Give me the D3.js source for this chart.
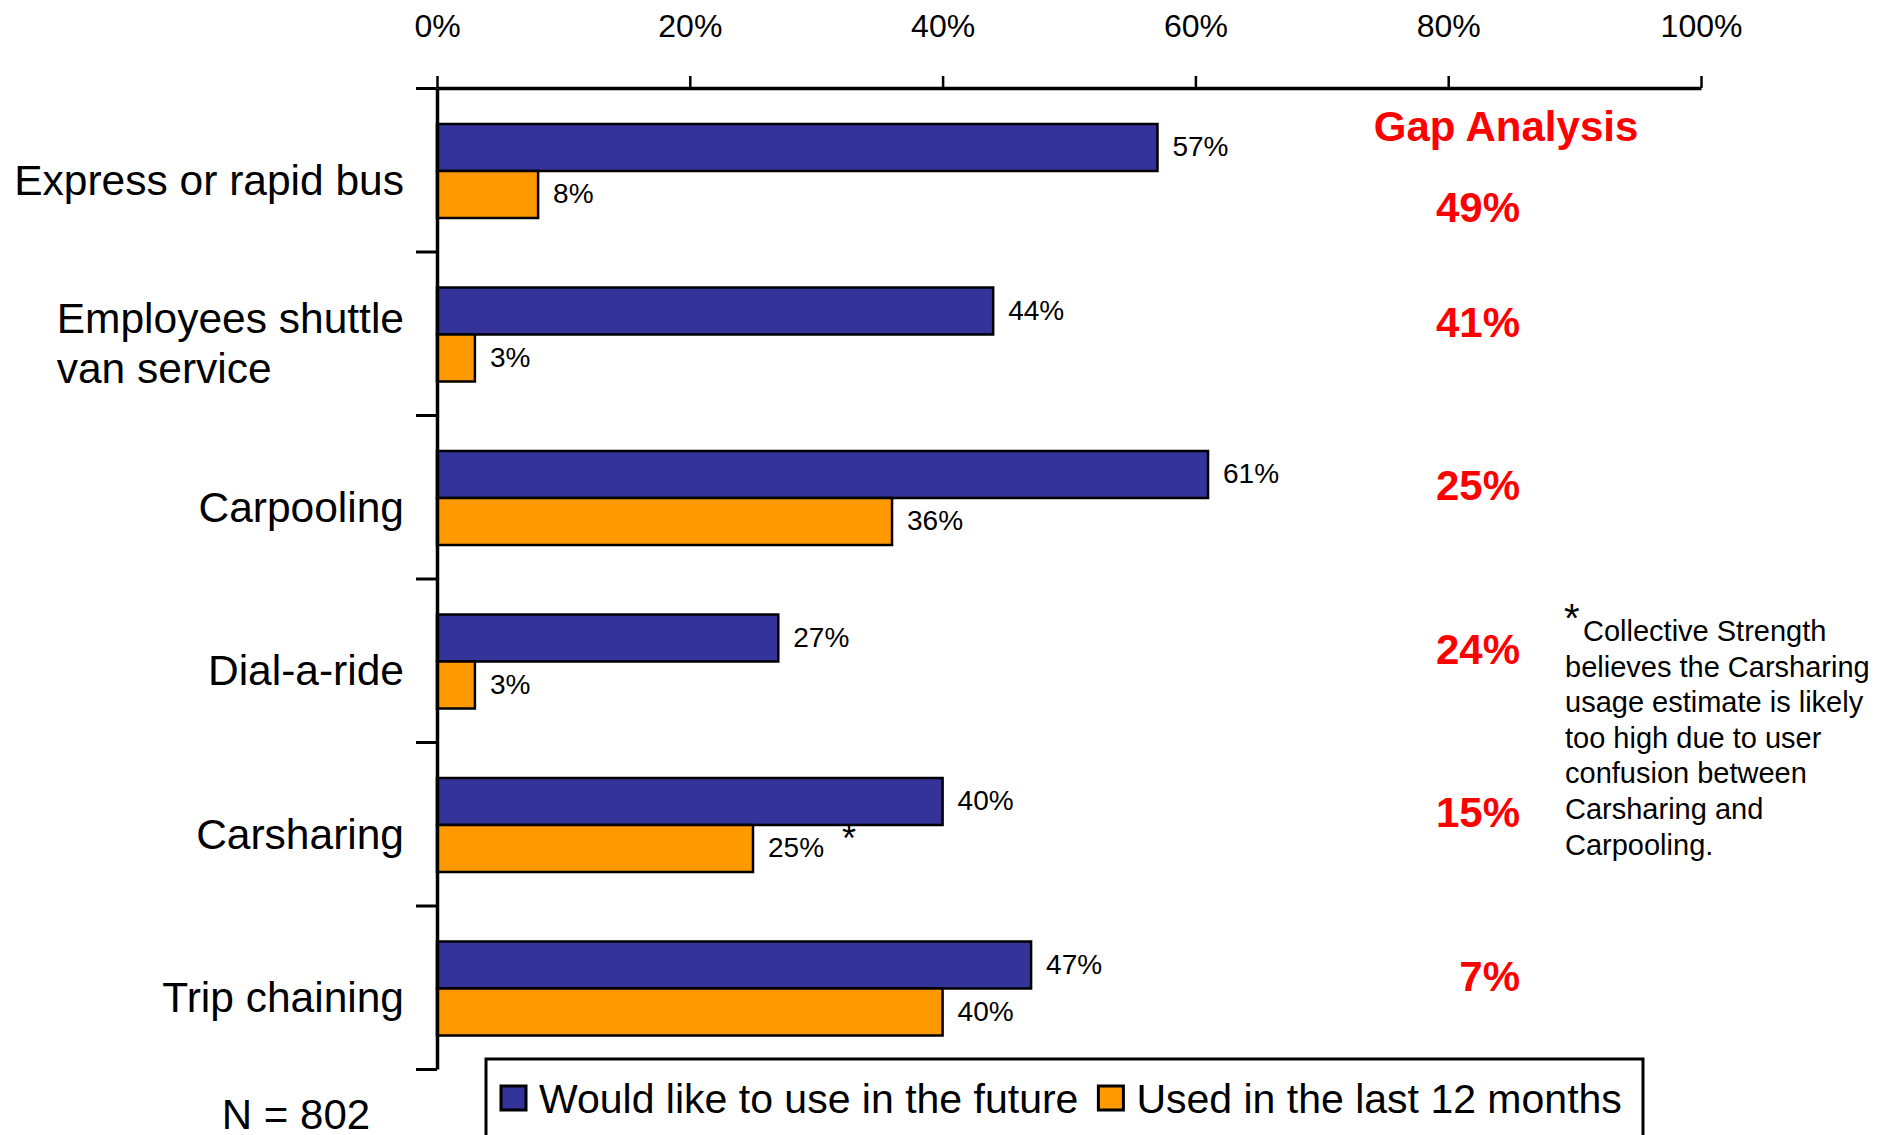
<!DOCTYPE html>
<html><head><meta charset="utf-8">
<script src="https://cdn.jsdelivr.net/npm/d3@7"></script>
<style>
body{margin:0;background:#fff}
svg{display:block}
text{font-family:"Liberation Sans",Arial,Helvetica,sans-serif;fill:#000}
</style>
</head><body>
<svg id="c" width="1892" height="1135"></svg>
<script>
// ---- data ----
const categories = ["Express or rapid bus", "Employees shuttle\nvan service", "Carpooling", "Dial-a-ride", "Carsharing", "Trip chaining"];
const futureValues = [57, 44, 61, 27, 40, 47];
const usedValues = [8, 3, 36, 3, 25, 40];
const usedMarks = ["", "", "", "", "*", ""];
const seriesNames = ["Would like to use in the future", "Used in the last 12 months"];
const seriesColors = ["#333399", "#FF9900"];
const tickValues = [0, 20, 40, 60, 80, 100];
const gapTitle = "Gap Analysis";
const footnoteMark = "*";
const footnoteLines = ["Collective Strength", "believes the Carsharing", "usage estimate is likely", "too high due to user", "confusion between", "Carsharing and", "Carpooling."];
const sampleNote = "N = 802";

// ---- layout ----
const svg = d3.select("#c");
svg.append("rect").attr("width", 1892).attr("height", 1135).attr("fill", "#fff");

const X0 = 437, X1 = 1701, Y0 = 88, Y1 = 1069;
const x = d3.scaleLinear().domain([0, 100]).range([X0, X1]);
const y = d3.scaleBand().domain(categories).range([Y0, Y1]);
const sub = d3.scaleBand().domain([0, 1]).range([36, 130]);
const yEdges = d3.scaleLinear().domain([0, categories.length]).range([Y0, Y1]);

const rows = categories.map((c, i) => ({
  cat: c, i,
  vals: [futureValues[i], usedValues[i]],
  gap: futureValues[i] - usedValues[i]
}));

// bars
const g = svg.append("g");
rows.forEach(r => {
  r.vals.forEach((v, s) => {
    const by = y(r.cat) + sub(s);
    g.append("rect")
      .attr("x", x(0)).attr("y", by)
      .attr("width", x(v) - x(0)).attr("height", sub.bandwidth())
      .attr("fill", seriesColors[s]).attr("stroke", "#000").attr("stroke-width", 2.5);
    const t = g.append("text")
      .attr("x", x(v) + 15).attr("y", by + sub.bandwidth() / 2 - 1)
      .attr("dominant-baseline", "central")
      .style("font-size", "28px")
      .text(v + "%");
    if (s === 1 && usedMarks[r.i]) {
      t.append("tspan").attr("dx", 18).attr("dy", -10).style("font-size", "36px").text(usedMarks[r.i]);
    }
  });
});

// top axis
const xAxis = d3.axisTop(x).tickValues(tickValues).tickFormat(d => d + "%")
  .tickSize(12).tickSizeOuter(0).tickPadding(39);
const ax = svg.append("g").attr("transform", `translate(0,${Y0})`).call(xAxis);
ax.select(".domain").attr("stroke-width", 3.5);
ax.selectAll(".tick line").attr("stroke-width", 2.5);
ax.selectAll(".tick text").style("font-size", "32px").style("font-family", '"Liberation Sans",Arial,sans-serif');

// left axis with boundary ticks
const yAxis = d3.axisLeft(yEdges).tickValues(d3.range(categories.length + 1)).tickFormat("")
  .tickSize(21).tickSizeOuter(0);
const ay = svg.append("g").attr("transform", `translate(${X0},0)`).call(yAxis);
ay.select(".domain").attr("stroke-width", 3.5);
ay.selectAll(".tick line").attr("stroke-width", 3);

// category labels
const LABEL_RIGHT = 404;
rows.forEach(r => {
  const lines = r.cat.split("\n");
  const cy = y(r.cat) + y.bandwidth() / 2 + 10;
  const lh = 50;
  const t = svg.append("text").style("font-size", "42.5px").attr("dominant-baseline", "central");
  lines.forEach((ln, k) => {
    t.append("tspan").attr("x", 0).attr("y", cy + (k - (lines.length - 1) / 2) * lh).text(ln);
  });
  const w = d3.max(t.selectAll("tspan").nodes(), n => n.getComputedTextLength());
  t.selectAll("tspan").attr("x", LABEL_RIGHT - w);
});

// gap analysis
svg.append("text").attr("x", 1506).attr("y", 126).attr("text-anchor", "middle")
  .attr("dominant-baseline", "central")
  .style("font-size", "42px").style("font-weight", "bold").style("fill", "#FF0000")
  .text(gapTitle);
rows.forEach(r => {
  const cy = y(r.cat) + y.bandwidth() / 2 + (r.i === 0 ? 38 : -11);
  svg.append("text").attr("x", 1520).attr("y", cy).attr("text-anchor", "end")
    .attr("dominant-baseline", "central")
    .style("font-size", "42px").style("font-weight", "bold").style("fill", "#FF0000")
    .text(r.gap + "%");
});

// footnote
svg.append("text").attr("x", 1564).attr("y", 632).style("font-size", "40px").text(footnoteMark);
const fy0 = 631, flh = 35.6;
footnoteLines.forEach((ln, k) => {
  svg.append("text").attr("x", k === 0 ? 1583 : 1565).attr("y", fy0 + k * flh)
    .attr("dominant-baseline", "central").style("font-size", "29px").text(ln);
});

// N note
svg.append("text").attr("x", 296).attr("y", 1114).attr("text-anchor", "middle")
  .attr("dominant-baseline", "central").style("font-size", "42px").text(sampleNote);

// legend
const lg = svg.append("g");
lg.append("rect").attr("x", 486).attr("y", 1059).attr("width", 1157).attr("height", 140)
  .attr("fill", "#fff").attr("stroke", "#000").attr("stroke-width", 3);
let lx = 501;
seriesNames.forEach((nm, s) => {
  lg.append("rect").attr("x", lx).attr("y", 1086).attr("width", 25).attr("height", 24)
    .attr("fill", seriesColors[s]).attr("stroke", "#000").attr("stroke-width", 3);
  const t = lg.append("text").attr("x", lx + 38).attr("y", 1099).attr("dominant-baseline", "central")
    .style("font-size", "41px").text(nm);
  lx = lx + 38 + t.node().getComputedTextLength() + 20;
});
</script>
</body></html>
